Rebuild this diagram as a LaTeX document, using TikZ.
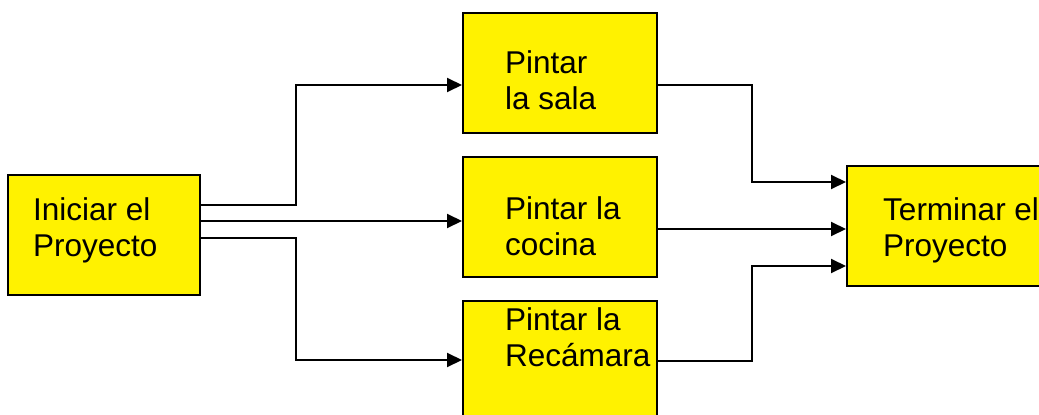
\documentclass[tikz,border=0pt]{standalone}
\usepackage{fontspec}
\setmainfont{Liberation Sans}
\usetikzlibrary{arrows.meta}
\begin{document}
\begin{tikzpicture}[x=1pt,y=-1pt,
  box/.style={draw=black, line width=2pt, fill=yellow, minimum width=194pt, minimum height=120pt, inner sep=0pt},
  lbl/.style={anchor=base west, inner sep=0pt, font=\fontsize{31.5}{36}\selectfont},
  conn/.style={line width=2pt, -{Triangle[length=15pt,width=14pt]}}]
\useasboundingbox (0,0) rectangle (1039,415);
\clip (0,0) rectangle (1039,415);
% boxes
\node[box, minimum width=192pt] (ini) at (104,235) {};
\node[box] (sala) at (560,73) {};
\node[box] (coc) at (560,217) {};
\node[box] (rec) at (560,361) {};
\node[box] (ter) at (944,226) {};
% labels
\node[lbl] (ini1) at (33,220) {Iniciar el};
\node[lbl] (ini2) at (33,256) {Proyecto};
\node[lbl] (sala1) at (505,73) {Pintar};
\node[lbl] (sala2) at (505,109) {la sala};
\node[lbl] (coc1) at (505,219) {Pintar la};
\node[lbl] (coc2) at (505,255) {cocina};
\node[lbl] (rec1) at (505,330) {Pintar la};
\node[lbl] (rec2) at (505,366) {Recámara};
\node[lbl] (ter1) at (883,220) {Terminar el};
\node[lbl] (ter2) at (883,256) {Proyecto};
% connectors
\draw[conn] (ini.east |- 0,205) -| (296,85) -- (sala.west |- 0,85);
\draw[conn] (ini.east |- 0,221) -- (coc.west |- 0,221);
\draw[conn] (ini.east |- 0,238) -| (296,360) -- (rec.west |- 0,360);
\draw[conn] (sala.east |- 0,85) -| (752,182) -- (ter.west |- 0,182);
\draw[conn] (coc.east |- 0,229) -- (ter.west |- 0,229);
\draw[conn] (rec.east |- 0,361) -| (752,266) -- (ter.west |- 0,266);
\end{tikzpicture}
\end{document}
